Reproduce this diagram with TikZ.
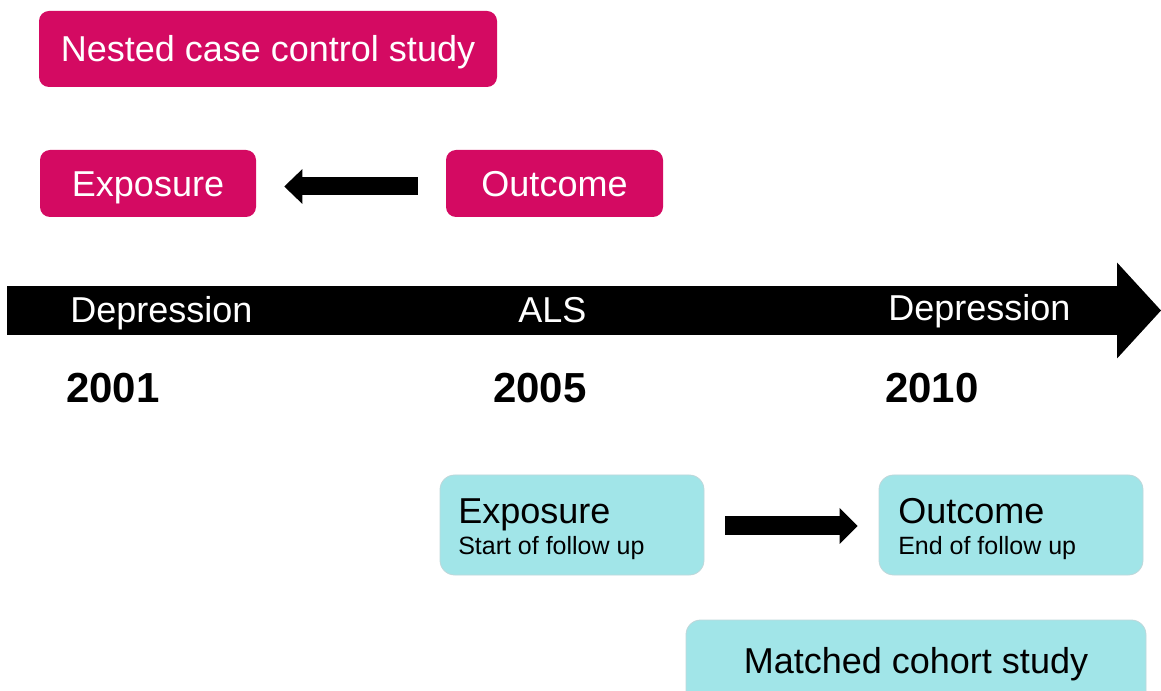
\documentclass[tikz,border=0pt]{standalone}
\usepackage{fontspec}
\setmainfont{Liberation Sans}
\usetikzlibrary{arrows.meta}
\definecolor{pinkbox}{RGB}{212,10,98}
\definecolor{cyanbox}{RGB}{161,229,232}
\definecolor{cyanedge}{RGB}{190,215,218}
\tikzset{
  pinkstyle/.style={fill=pinkbox, rounded corners=7.5pt, inner sep=0pt, text=white,
    font=\fontsize{27}{32}\selectfont, text height=19.3pt, text depth=0pt},
  cyanstyle/.style={fill=cyanbox, draw=cyanedge, line width=0.6pt, rounded corners=11pt, inner sep=0pt},
  bigtext/.style={inner sep=0pt, font=\fontsize{27}{32}\selectfont},
  smalltext/.style={inner sep=0pt, font=\fontsize{18.75}{22}\selectfont},
  yeartext/.style={inner sep=0pt, font=\fontsize{31.5}{36}\selectfont\bfseries},
  whitetext/.style={bigtext, text=white},
  blockarrow/.style={line width=13.5pt, -{Triangle[length=13.5pt,width=26pt,line width=0pt]}},
}
\begin{document}
\begin{tikzpicture}[x=0.75pt,y=-0.75pt]
\useasboundingbox (0,0) rectangle (1161,691);
\clip (0,0) rectangle (1161,691);
% pink boxes
\node[pinkstyle, minimum width=343.5pt, minimum height=57pt] (nested) at (268,49) {Nested case control study};
\node[pinkstyle, minimum width=162pt, minimum height=50.25pt] (pexp) at (148,183.5) {Exposure};
\node[pinkstyle, minimum width=162.75pt, minimum height=50.25pt] (pout) at (554.5,183.5) {Outcome};
\draw[blockarrow, shorten <=21pt, shorten >=21pt] ([yshift=-2.25pt]pout.west) -- ([yshift=-2.25pt]pexp.east);
% timeline
\coordinate (tlstart) at (7,310.5);
\coordinate (tlend) at (1161,310.5);
\draw[line width=36.75pt, -{Triangle[length=33pt,width=72pt,line width=0pt]}] (tlstart) -- (tlend);
\node[whitetext, anchor=base west] (dep1) at (70,323) {Depression};
\node[whitetext, anchor=base west] (als) at (518,323) {ALS};
\node[whitetext, anchor=base west] (dep2) at (888,321) {Depression};
\node[yeartext, anchor=base west] (y1) at (66,403) {2001};
\node[yeartext, anchor=base west] (y2) at (493,403) {2005};
\node[yeartext, anchor=base west] (y3) at (885,403) {2010};
% cyan boxes
\node[cyanstyle, minimum width=198pt, minimum height=75pt] (cexp) at (572,525) {};
\node[cyanstyle, minimum width=198pt, minimum height=75pt] (cout) at (1011,525) {};
\node[cyanstyle, minimum width=345pt, minimum height=75pt] (matched) at (916,670) {};
\node[bigtext, anchor=base west] (cexpt) at (458,523) {Exposure};
\node[smalltext, anchor=base west] (cexps) at (458,555) {Start of follow up};
\node[bigtext, anchor=base west] (coutt) at (898,523) {Outcome};
\node[smalltext, anchor=base west] (couts) at (898,555) {End of follow up};
\node[bigtext, anchor=base] (mtext) at (916,673) {Matched cohort study};
\draw[line width=14.25pt, -{Triangle[length=13.5pt,width=27pt,line width=0pt]}, shorten <=15.75pt, shorten >=15.75pt] ([yshift=-0.75pt]cexp.east) -- ([yshift=-0.75pt]cout.west);
\end{tikzpicture}
\end{document}
